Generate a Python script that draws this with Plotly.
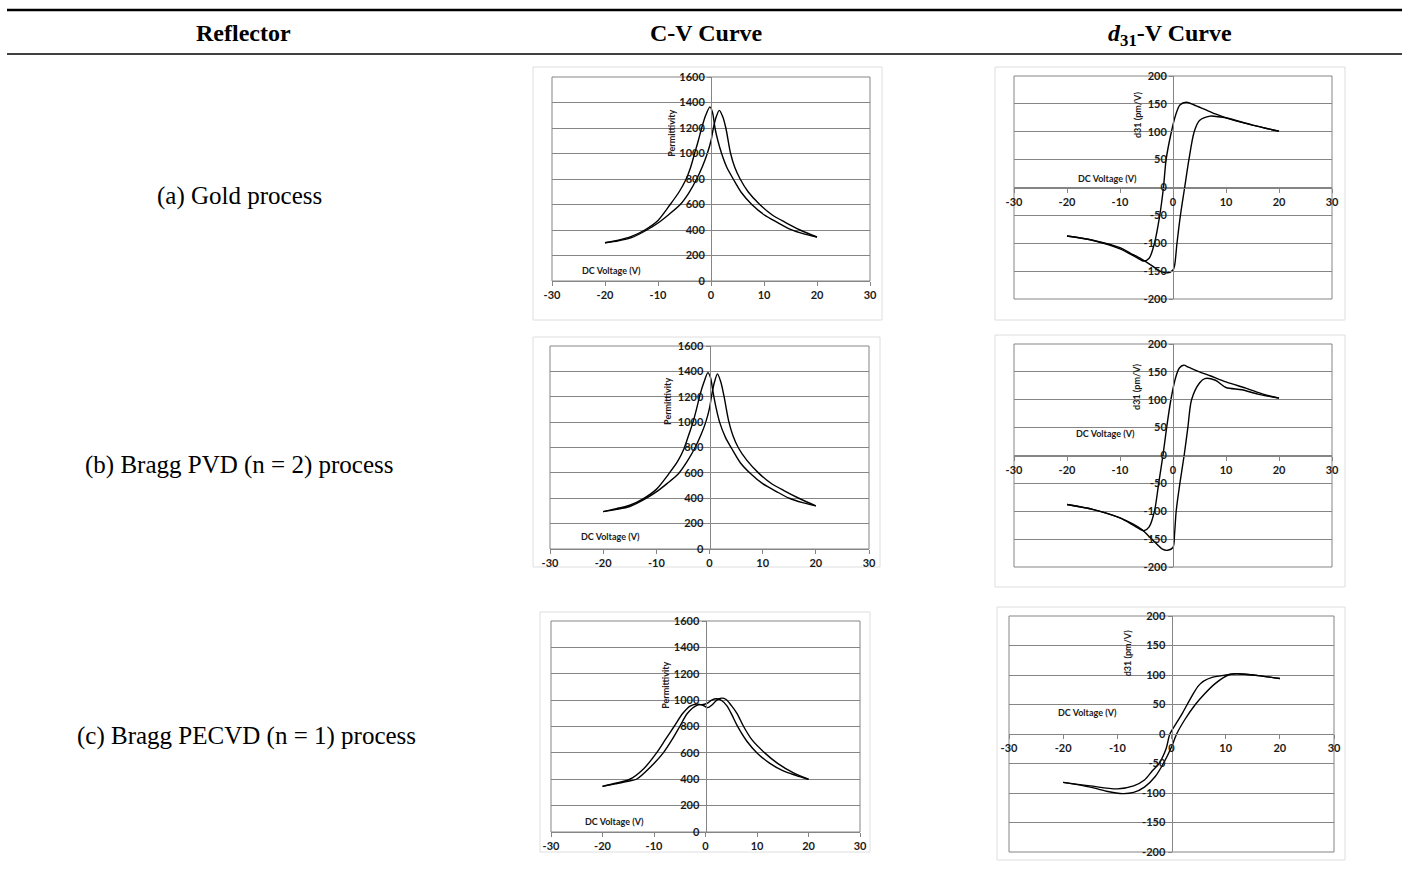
import plotly.graph_objects as go

# ---------------- data ----------------
volt_ticks = [-30, -20, -10, 0, 10, 20, 30]
volt_ticktext = ["-30", "-20", "-10", "0", "10", "20", "30"]
perm_ticks = [0, 200, 400, 600, 800, 1000, 1200, 1400, 1600]
perm_ticktext = ["0", "200", "400", "600", "800", "1000", "1200", "1400", "1600"]
d31_ticks = [-200, -150, -100, -50, 0, 50, 100, 150, 200]
d31_ticktext = ["-200", "-150", "-100", "-50", "0", "50", "100", "150", "200"]

row_labels = ["(a) Gold process", "(b) Bragg PVD (n = 2) process", "(c) Bragg PECVD (n = 1) process"]
col_headers = ["Reflector", "C-V Curve", "<i>d</i><sub>31</sub>-V Curve"]

# (a) Gold - C-V
cv_gold_a_x = [-20, -17.5, -15, -12.5, -10, -7.7, -6, -4.8, -3.9, -3.1, -2.4, -1.76, -1, -0.2, 0.3, 0.75, 1.3, 2.0, 3, 4.2, 5.8, 7.7, 10, 12.5, 15, 17.5, 20]
cv_gold_a_y = [300, 320, 350, 400, 475, 600, 700, 790, 885, 1000, 1100, 1200, 1300, 1366, 1320, 1200, 1100, 1000, 890, 800, 690, 600, 520, 460, 405, 370, 345]
cv_gold_b_x = [-20, -17.5, -15, -12.1, -10, -8, -5.8, -4.2, -2.7, -1.6, -0.7, 0, 0.45, 1, 1.57, 2.2, 2.8, 3.7, 4.5, 5.5, 7, 9.2, 11.5, 14, 16.8, 20]
cv_gold_b_y = [300, 315, 340, 400, 455, 520, 600, 690, 800, 900, 1000, 1100, 1200, 1290, 1338, 1290, 1200, 1000, 890, 800, 700, 600, 520, 460, 400, 345]

# (b) Bragg PVD - C-V
cv_pvd_a_x = [-20, -17.5, -15, -12.5, -10, -7.7, -6, -4.8, -3.9, -3.1, -2.4, -1.76, -1, -0.3, 0.2, 0.65, 1.2, 1.9, 3, 4.2, 5.8, 7.7, 10, 12.5, 15, 17.5, 20]
cv_pvd_a_y = [295, 318, 345, 395, 470, 590, 690, 790, 900, 1000, 1110, 1220, 1320, 1390, 1350, 1240, 1120, 1000, 880, 790, 680, 595, 515, 455, 400, 365, 340]
cv_pvd_b_x = [-20, -17.5, -15, -12.1, -10, -8, -5.8, -4.2, -2.7, -1.6, -0.7, 0, 0.4, 0.9, 1.5, 2.1, 2.7, 3.6, 4.4, 5.4, 7, 9.2, 11.5, 14, 16.8, 20]
cv_pvd_b_y = [295, 312, 335, 395, 450, 515, 595, 690, 800, 900, 1000, 1110, 1210, 1310, 1380, 1320, 1210, 1010, 895, 800, 700, 600, 520, 460, 400, 340]

# (c) Bragg PECVD - C-V
cv_pecvd_a_x = [-20, -17.5, -14.7, -12, -9.5, -7.8, -6.1, -4.4, -3, -1.8, -0.7, 0.3, 1.2, 2.2, 3.2, 4.2, 5.1, 6.1, 8, 10, 12.5, 15, 17.5, 20]
cv_pecvd_a_y = [346, 370, 400, 480, 600, 700, 800, 900, 955, 970, 965, 975, 1000, 1010, 995, 955, 890, 810, 690, 600, 520, 465, 430, 400]
cv_pecvd_b_x = [-20, -17.5, -15, -13.4, -10.5, -8.2, -6.5, -5, -3.5, -1.7, -0.7, 0.4, 1.3, 2.2, 3.1, 4, 5, 6.1, 7.4, 9, 11.5, 14, 17, 20]
cv_pecvd_b_y = [346, 365, 385, 400, 500, 600, 700, 800, 900, 960, 965, 943, 965, 1000, 1015, 1005, 960, 900, 800, 700, 600, 520, 450, 400]

# (a) Gold - d31-V
d31_gold_a_x = [-20, -15, -10, -7, -5.5, -4.5, -3.5, -2.5, -1.8, -1.3, -0.3, 0.5, 1.3, 2.5, 4, 6, 8, 10, 15, 20]
d31_gold_a_y = [-87, -95, -110, -125, -132, -127, -100, -50, 0, 50, 100, 130, 148, 153, 148, 140, 132, 125, 112, 101]
d31_gold_b_x = [-20, -15, -10, -8, -6, -4, -2.5, -1, 0, 0.3, 0.75, 1.4, 2.2, 3, 4, 5, 7, 8.5, 10, 15, 20]
d31_gold_b_y = [-87, -95, -108, -118, -128, -140, -150, -153, -148, -140, -100, -50, 0, 50, 100, 120, 128, 127, 125, 112, 101]

# (b) Bragg PVD - d31-V
d31_pvd_a_x = [-20, -15, -10, -7, -5.5, -4.5, -3.5, -2.7, -1.9, -1.2, -0.4, 0.5, 1.2, 2, 3, 5, 7, 10, 14, 17, 20]
d31_pvd_a_y = [-88, -97, -112, -128, -135, -128, -100, -50, 0, 50, 100, 140, 157, 162, 158, 150, 143, 132, 120, 110, 103]
d31_pvd_b_x = [-20, -15, -10, -6, -4, -2, -1, 0, 0.3, 0.6, 1.3, 2.1, 2.8, 3.5, 5, 6, 8, 10, 13, 16, 20]
d31_pvd_b_y = [-88, -97, -112, -132, -150, -168, -170, -165, -140, -100, -50, 0, 50, 100, 130, 138, 135, 122, 118, 110, 103]

# (c) Bragg PECVD - d31-V
d31_pecvd_a_x = [-20, -15, -10, -7, -5, -3.5, -2.3, -1, -0.3, 1, 2, 2.9, 4, 5, 6, 7.5, 10, 12, 16, 20]
d31_pecvd_a_y = [-82, -88, -93, -88, -78, -62, -50, -25, 0, 20, 35, 50, 68, 82, 90, 96, 100, 102, 99, 94]
d31_pecvd_b_x = [-20, -15, -12, -9, -7, -5, -3, -1.5, 0, 0.95, 2.5, 4.4, 6, 8, 10.5, 12, 16, 20]
d31_pecvd_b_y = [-82, -90, -97, -101, -99, -90, -72, -50, -22, 0, 25, 50, 67, 85, 100, 102, 99, 94]

# ---------------- layout helpers ----------------
W, H = 1408, 870


def fx(x):
    return x / W


def fy(y):
    return 1 - y / H


GRID = "#858585"
FRAME = "#dedede"
TXT = "#1a1a1a"
CHART_FONT = "Lato"
SERIF = "Liberation Serif"

panels = [
    dict(kind="cv", curves=[(cv_gold_a_x, cv_gold_a_y), (cv_gold_b_x, cv_gold_b_y)],
         plot=(552, 870, 77, 281), frame=(533, 882, 67, 320), ylab=(-7.6, 1160), xlab=(-18.7, 86)),
    dict(kind="d31", curves=[(d31_gold_a_x, d31_gold_a_y), (d31_gold_b_x, d31_gold_b_y)],
         plot=(1014, 1332, 76, 299), frame=(995, 1345, 67, 320), ylab=(-6.8, 130), xlab=(-12.3, 17)),
    dict(kind="cv", curves=[(cv_pvd_a_x, cv_pvd_a_y), (cv_pvd_b_x, cv_pvd_b_y)],
         plot=(550, 869, 346, 549), frame=(533, 880, 337, 567), ylab=(-7.8, 1159), xlab=(-18.7, 95)),
    dict(kind="d31", curves=[(d31_pvd_a_x, d31_pvd_a_y), (d31_pvd_b_x, d31_pvd_b_y)],
         plot=(1014, 1332, 344, 567), frame=(995, 1345, 335, 587), ylab=(-6.8, 123), xlab=(-12.8, 39)),
    dict(kind="cv", curves=[(cv_pecvd_a_x, cv_pecvd_a_y), (cv_pecvd_b_x, cv_pecvd_b_y)],
         plot=(551, 860, 621, 832), frame=(540, 870, 612, 852), ylab=(-7.7, 1115), xlab=(-17.6, 76)),
    dict(kind="d31", curves=[(d31_pecvd_a_x, d31_pecvd_a_y), (d31_pecvd_b_x, d31_pecvd_b_y)],
         plot=(1009, 1334, 616, 852), frame=(997, 1345, 607, 860), ylab=(-8.2, 137), xlab=(-15.6, 36)),
]

fig = go.Figure()
layout = {}
shapes = []
annotations = []
tickfont = dict(family=CHART_FONT, size=11, color=TXT, weight="bold")
labfont = dict(family=CHART_FONT, size=9, color=TXT, weight="bold")

for i, p in enumerate(panels, start=1):
    sfx = "" if i == 1 else str(i)
    xa, ya = "x" + sfx, "y" + sfx
    x0, x1, y0, y1 = p["plot"]
    for cx, cy in p["curves"]:
        fig.add_trace(go.Scatter(x=cx, y=cy, mode="lines", xaxis=xa, yaxis=ya,
                                 line=dict(color="#000000", width=1.4, shape="spline", smoothing=0.8),
                                 hoverinfo="skip", showlegend=False))
    xmid_paper = fx((x0 + x1) / 2)
    ymid_paper = fy((y0 + y1) / 2)
    common_x = dict(domain=[fx(x0), fx(x1)], range=[-30, 30], tickmode="array", tickvals=volt_ticks,
                    ticktext=volt_ticktext, automargin=False,
                    showgrid=False, zeroline=False, showline=True, linecolor=GRID, linewidth=1,
                    ticks="outside", ticklen=4, tickcolor=GRID, tickfont=tickfont, fixedrange=True)
    if p["kind"] == "cv":
        xax = dict(common_x, anchor=ya)
        yax = dict(domain=[fy(y1), fy(y0)], range=[0, 1600], tickmode="array", tickvals=perm_ticks,
                   ticktext=perm_ticktext, anchor="free", position=xmid_paper)
    else:
        xax = dict(common_x, anchor="free", position=ymid_paper)
        yax = dict(domain=[fy(y1), fy(y0)], range=[-200, 200], tickmode="array", tickvals=d31_ticks,
                   ticktext=d31_ticktext, anchor="free", position=xmid_paper)
    yax.update(showgrid=True, gridcolor=GRID, gridwidth=1, zeroline=False, showline=True, automargin=False,
               linecolor=GRID, linewidth=1, ticks="outside", ticklen=4, tickcolor=GRID,
               tickfont=tickfont, fixedrange=True)
    layout["xaxis" + sfx] = xax
    layout["yaxis" + sfx] = yax

    # plot-area border
    shapes.append(dict(type="rect", xref=xa + " domain", yref=ya + " domain", x0=0, x1=1, y0=0, y1=1,
                       line=dict(color=GRID, width=1), layer="below"))
    # chart frame
    fx0, fx1, fy0, fy1 = p["frame"]
    shapes.append(dict(type="rect", xref="paper", yref="paper", x0=fx(fx0), x1=fx(fx1), y0=fy(fy1), y1=fy(fy0),
                       line=dict(color=FRAME, width=1), layer="below"))
    # axis titles
    ylab_text = "Permittivity" if p["kind"] == "cv" else "d31 (pm/V)"
    annotations.append(dict(text=ylab_text, xref=xa, yref=ya, x=p["ylab"][0], y=p["ylab"][1],
                            xanchor="center", yanchor="middle",
                            showarrow=False, textangle=-90, font=labfont))
    annotations.append(dict(text="DC Voltage (V)", xref=xa, yref=ya, x=p["xlab"][0], y=p["xlab"][1],
                            xanchor="center", yanchor="middle",
                            showarrow=False, font=labfont))

# table rules
shapes.append(dict(type="line", xref="paper", yref="paper", x0=fx(7), x1=fx(1402), y0=fy(10), y1=fy(10),
                   line=dict(color="#000000", width=2.5)))
shapes.append(dict(type="line", xref="paper", yref="paper", x0=fx(7), x1=fx(1402), y0=fy(54), y1=fy(54),
                   line=dict(color="#000000", width=1.3)))

# headers
header_x = [243, 706, 1170]
header_y = [33, 33, 35]
for hx, hy, txt in zip(header_x, header_y, col_headers):
    annotations.append(dict(text="<b>" + txt + "</b>", xref="paper", yref="paper", x=fx(hx), y=fy(hy),
                            xanchor="center", yanchor="middle",
                            showarrow=False, font=dict(family=SERIF, size=24, color="#000000")))

# row labels
row_y = [196, 465, 736]
row_x = [240, 239, 246]
for rx, ry, txt in zip(row_x, row_y, row_labels):
    annotations.append(dict(text=txt, xref="paper", yref="paper", x=fx(rx), y=fy(ry),
                            xanchor="center", yanchor="middle",
                            showarrow=False, font=dict(family=SERIF, size=25, color="#000000")))

layout.update(width=W, height=H, margin=dict(l=0, r=0, t=0, b=0, autoexpand=False), paper_bgcolor="white",
              plot_bgcolor="white", showlegend=False, hovermode=False,
              shapes=shapes, annotations=annotations)
fig.update_layout(**layout)
fig.write_html("out.html", config={"displayModeBar": False},
               post_script="document.body.style.margin='0';")
